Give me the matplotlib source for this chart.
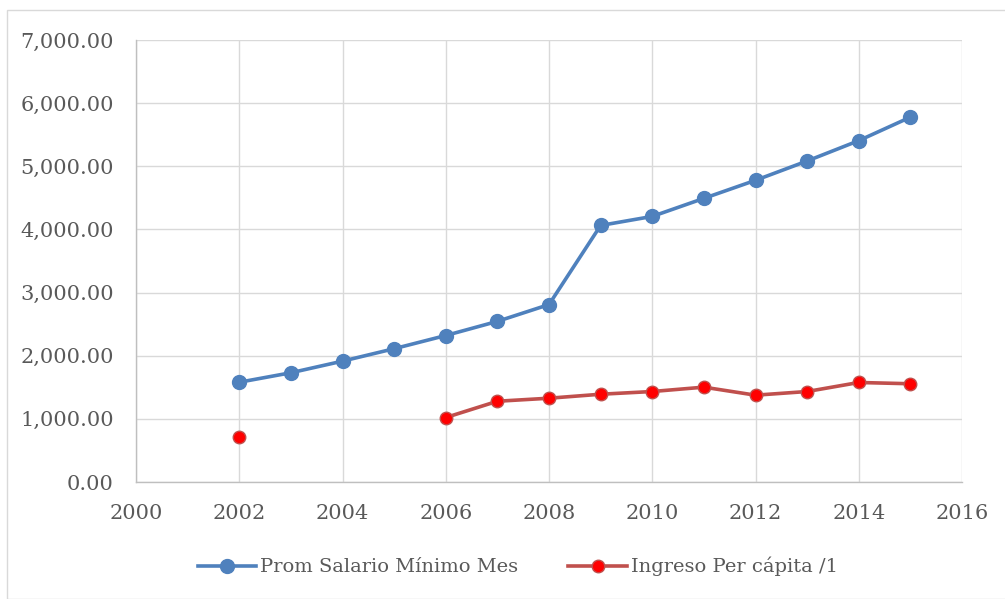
import numpy as np
import matplotlib.pyplot as plt
from matplotlib.patches import Rectangle
from matplotlib.ticker import FuncFormatter

years = [2002, 2003, 2004, 2005, 2006, 2007, 2008, 2009, 2010, 2011, 2012, 2013, 2014, 2015]
salario = [1580, 1730, 1914, 2111, 2320, 2544, 2810, 4063, 4206, 4492, 4778, 5084, 5406, 5778]
# 2003-2005 sin dato para ingreso per capita
ingreso = [719, np.nan, np.nan, np.nan, 1021, 1279, 1327, 1390, 1433, 1502, 1375, 1433, 1576, 1556]

plt.rcParams['font.family'] = ['DejaVu Serif']
txt = '#595959'
grid = '#d9d9d9'

fig = plt.figure(figsize=(10.05, 5.99), dpi=100)
fig.patches.append(Rectangle((7 / 1005, 0), 1.0, 1 - 10 / 599, transform=fig.transFigure,
                             fill=False, edgecolor=grid, linewidth=1.0))
ax = fig.add_axes([136 / 1005, 117 / 599, 826 / 1005, 442 / 599])

ax.plot(years, salario, color='#4f81bd', linewidth=2.6, marker='o', markersize=10,
        markerfacecolor='#4f81bd', markeredgecolor='#4f81bd', label='Prom Salario Mínimo Mes', zorder=3)
ax.plot(years, ingreso, color='#c0504d', linewidth=2.6, marker='o', markersize=9,
        markerfacecolor='#ff0000', markeredgecolor='#c0504d', markeredgewidth=1.0,
        label='Ingreso Per cápita /1', zorder=3)

ax.set_xlim(2000, 2016)
ax.set_ylim(0, 7000)
ax.set_xticks(range(2000, 2017, 2))
ax.set_yticks(range(0, 7001, 1000))
ax.yaxis.set_major_formatter(FuncFormatter(lambda v, p: f'{v:,.2f}'))
ax.grid(True, color=grid, linewidth=1.0, zorder=0)
ax.set_axisbelow(True)
for s in ['top', 'right']:
    ax.spines[s].set_visible(False)
for s in ['left', 'bottom']:
    ax.spines[s].set_color('#bfbfbf')
    ax.spines[s].set_linewidth(1.0)
ax.tick_params(length=0, labelsize=15, labelcolor=txt)
ax.tick_params(axis='y', pad=16)
ax.tick_params(axis='x', pad=16)

ax.legend(loc='upper center', bbox_to_anchor=(0.462, -0.13), ncol=2, frameon=False,
          fontsize=14, labelcolor=txt, handlelength=3.0, handletextpad=0.2, columnspacing=2.6)

fig.savefig('out.png', dpi=100)
